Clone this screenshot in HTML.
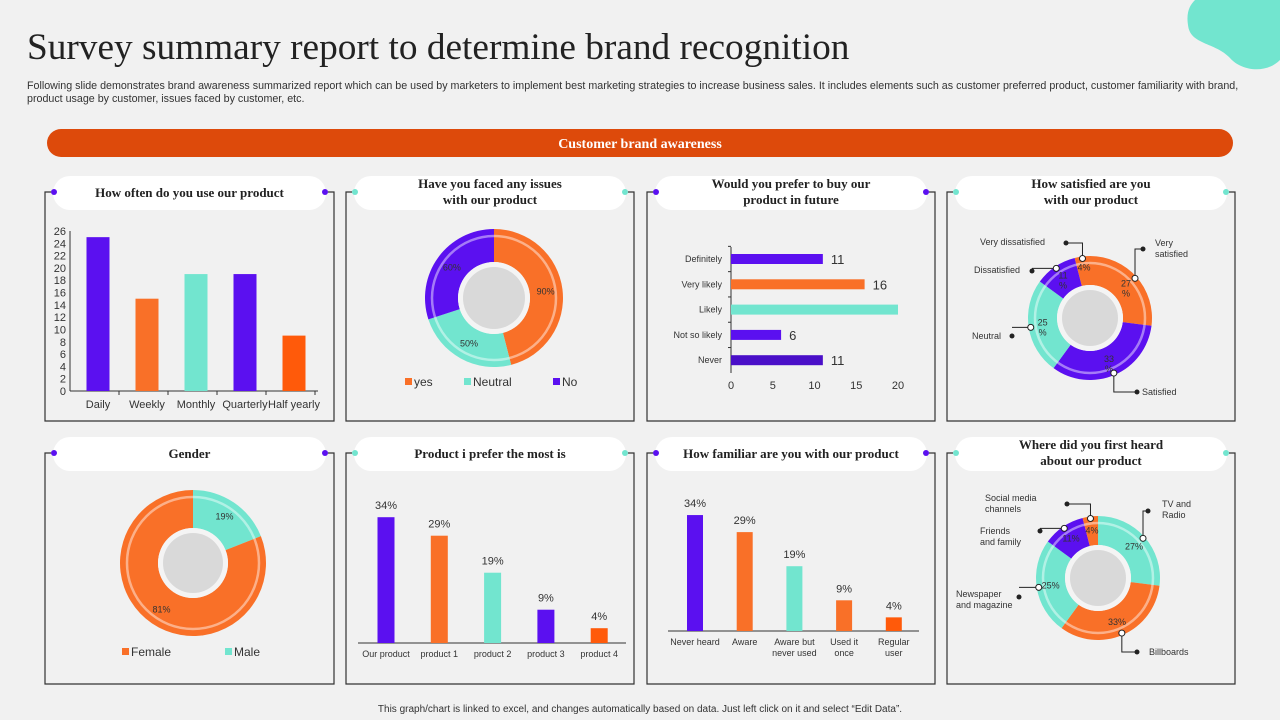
<!DOCTYPE html>
<html><head><meta charset="utf-8"><style>
body{margin:0;width:1280px;height:720px;overflow:hidden;background:#f1f1f1;font-family:"Liberation Sans",sans-serif}
svg{display:block}
.t{font-family:"Liberation Serif",serif;font-weight:bold;fill:#222;font-size:13px}
.s{font-family:"Liberation Sans",sans-serif;fill:#333}
</style></head><body>
<svg id="svg" width="1280" height="720" viewBox="0 0 1280 720">
<rect width="1280" height="720" fill="#f1f1f1"/>
<path d="M1195 0 H1280 V60 C1265 75 1240 70 1230 58 C1215 42 1190 45 1188 25 C1186 12 1190 5 1195 0Z" fill="#72e5cf"/>
<text x="27" y="59" font-family="Liberation Serif,serif" font-size="37.3" fill="#222">Survey summary report to determine brand recognition</text>
<text x="27" y="89" class="s" font-size="10.7" fill="#444">Following slide demonstrates brand awareness summarized report which can be used by marketers to implement best marketing strategies to increase business sales. It includes elements such as customer preferred product, customer familiarity with brand,</text>
<text x="27" y="102" class="s" font-size="10.7" fill="#444">product usage by customer, issues faced by customer, etc.</text>
<rect x="47" y="129" width="1186" height="28" rx="14" fill="#dd4a0b"/>
<text x="640" y="148" text-anchor="middle" font-family="Liberation Serif,serif" font-weight="bold" font-size="14" fill="#fff">Customer brand awareness</text>
<text x="640" y="712" text-anchor="middle" class="s" font-size="10" fill="#444">This graph/chart is linked to excel, and changes automatically based on data. Just left click on it and select “Edit Data”.</text>
<g id="g"></g>
</svg>
<script>
// ---- data ----
const usageCats=["Daily","Weekly","Monthly","Quarterly","Half yearly"];
const usageVals=[25,15,19,19,9];
const usageTicks=[0,2,4,6,8,10,12,14,16,18,20,22,24,26];
const issueCats=["yes","Neutral","No"];
const issueVals=[46,24,30];
const issueLabels=["90%","50%","60%"];
const buyCats=["Definitely","Very likely","Likely","Not so likely","Never"];
const buyVals=[11,16,20,6,11];
const buyTicks=[0,5,10,15,20];
const satCats=["Very dissatisfied","Very satisfied","Satisfied","Neutral","Dissatisfied"];
const satVals=[4,27,33,25,11];
const genderCats=["Male","Female"];
const genderVals=[19,81];
const prodCats=["Our product","product 1","product 2","product 3","product 4"];
const prodVals=[34,29,19,9,4];
const famCats=["Never heard","Aware","Aware but|never used","Used it|once","Regular|user"];
const famVals=[34,29,19,9,4];
const heardCats=["TV and Radio","Billboards","Newspaper and magazine","Friends and family","Social media channels"];
const heardVals=[27,33,25,11,4];

const P="#5b10f0",O="#f97028",T="#72e5cf",O2="#ff5a0a",P2="#4a0fc8";
const NS="http://www.w3.org/2000/svg";
const G=document.getElementById('g');
function el(tag,at,parent){const e=document.createElementNS(NS,tag);for(const k in at)e.setAttribute(k,at[k]);(parent||G).appendChild(e);return e;}
function tx(x,y,s,at){const e=el('text',Object.assign({x:x,y:y},at||{}));e.textContent=s;return e;}

// panels
const panels=[[45,192,289,229,"How often do you use our product",null,P],[346,192,288,229,"Have you faced any issues","with our product",T],
[647,192,288,229,"Would you prefer to buy our","product in future",P],[947,192,288,229,"How satisfied are you","with our product",T],
[45,453,289,231,"Gender",null,P],[346,453,288,231,"Product i prefer the most is",null,T],
[647,453,288,231,"How familiar are you with our product",null,P],[947,453,288,231,"Where did you first heard","about our product",T]];
panels.forEach((p,i)=>{
 const [x,y,w,h,t1,t2,c]=p;
 const f=el('path',{d:`M${x+6} ${y}H${x} V${y+h} H${x+w} V${y} H${x+w-6}`,fill:'none',stroke:'#333','stroke-width':1.2});
 
 
 const pill=el('rect',{x:x+8,y:y-16,width:w-16,height:34,rx:17,fill:'#fff'});
 
 
 [x+9,x+w-9].forEach(cx=>{const d=el('circle',{cx:cx,cy:y,r:3,fill:c});});
 if(t2){const a=tx(x+w/2,y-4,t1,{class:'t','text-anchor':'middle'});
  const b=tx(x+w/2,y+12,t2,{class:'t','text-anchor':'middle'});}
 else{const a=tx(x+w/2,y+5,t1,{class:'t','text-anchor':'middle'});}
});

// Panel 1: vertical bars
(function(){
 const x0=85,y0=391,yTop=231,maxV=26,step=49,bw=23;
 const ys=v=>y0-(v/maxV)*(y0-yTop);
 el('line',{x1:x0-15,y1:y0,x2:x0+233,y2:y0,stroke:'#333'});
 el('line',{x1:x0-15,y1:yTop,x2:x0-15,y2:y0,stroke:'#333'});
 usageTicks.forEach(v=>{const t=tx(x0-19,ys(v)+4,v,{class:'s','font-size':11,'text-anchor':'end'});});
 const cols=[P,O,T,P,O2];
 usageVals.forEach((v,i)=>{const cx=x0+13+i*step;
  const r=el('rect',{x:cx-bw/2,y:ys(v),width:bw,height:y0-ys(v),fill:cols[i]});
  
  
  const l=tx(cx,y0+17,usageCats[i],{class:'s','font-size':11,'text-anchor':'middle'});
  
  
  el('line',{x1:x0-15+(i+1)*step,y1:y0,x2:x0-15+(i+1)*step,y2:y0+4,stroke:'#333'});
 });
})();

function pt(cx,cy,r,a){return [cx+r*Math.sin(a),cy-r*Math.cos(a)];}
function donut(cx,cy,R,r,vals,cols,start,name,cats){
 const tot=vals.reduce((a,b)=>a+b,0);let a=start;const mids=[];
 vals.forEach((v,i)=>{const b=a+v/tot*2*Math.PI;const lg=(b-a)>Math.PI?1:0;
  const p1=pt(cx,cy,R,a),p2=pt(cx,cy,R,b),p3=pt(cx,cy,r,b),p4=pt(cx,cy,r,a);
  const s=el('path',{d:`M${p1}A${R} ${R} 0 ${lg} 1 ${p2}L${p3}A${r} ${r} 0 ${lg} 0 ${p4}Z`,fill:cols[i]});
  
  
  mids.push((a+b)/2);a=b;});
 el('circle',{cx:cx,cy:cy,r:R-7,fill:'none',stroke:'rgba(255,255,255,0.45)','stroke-width':2.5});
 el('circle',{cx:cx,cy:cy,r:r,fill:'#f4f4f4'});
 const c=el('circle',{cx:cx,cy:cy,r:r-5,fill:'#d9d9d9'});
 
 
 return mids;
}

// Panel 2
(function(){
 const cols=[O,T,P];
 const m=donut(494,298,69,36,issueVals,cols,0,'issues',issueCats);
 m.forEach((a,i)=>{const p=pt(494,298,52,a);const t=tx(p[0],p[1]+3,issueLabels[i],{class:'s','font-size':9,'text-anchor':'middle',fill:i==1?'#333':'#fff'});});
 const lx=[405,464,553];
 issueCats.forEach((c,i)=>{el('rect',{x:lx[i],y:378,width:7,height:7,fill:cols[i]});
  const t=tx(lx[i]+9,386,c,{class:'s','font-size':12});});
})();

// Panel 3: horizontal bars
(function(){
 const x0=731,x1=898,maxV=20,y1=259,step=25.3,bh=10;
 const xs=v=>x0+v/maxV*(x1-x0);
 el('line',{x1:x0,y1:247,x2:x0,y2:373,stroke:'#333'});
 buyTicks.forEach(v=>{const t=tx(xs(v),389,v,{class:'s','font-size':11,'text-anchor':'middle'});});
 const cols=[P,O,T,P,P2];
 buyVals.forEach((v,i)=>{const y=y1+i*step;
  const r=el('rect',{x:x0,y:y-bh/2,width:xs(v)-x0,height:bh,fill:cols[i]});
  
  
  const l=tx(x0-9,y+3,buyCats[i],{class:'s','font-size':9,'text-anchor':'end'});
  
  if(v<maxV){const vl=tx(xs(v)+8,y+5,v,{class:'s','font-size':13});}
  el('line',{x1:x0-3,y1:y-step/2,x2:x0,y2:y-step/2,stroke:'#333'});
 });
})();

function callouts(cx,cy,R,mids,cats,spec){
 spec.forEach((s,i)=>{const p=pt(cx,cy,R-2,mids[i]);
  el('path',{d:s.path(p),fill:'none',stroke:'#222','stroke-width':1});
  el('circle',{cx:p[0],cy:p[1],r:3,fill:'#fff',stroke:'#222'});
  el('circle',{cx:s.dot[0],cy:s.dot[1],r:2.5,fill:'#222'});
  s.lines.forEach((ln,j)=>{const t=tx(s.tx,s.ty+j*11,ln,{class:'s','font-size':9,'text-anchor':s.anchor||'start'});});
 });
}

// Panel 4
(function(){
 const cx=1090,cy=318,cols=[O,O,P,T,P];
 const m=donut(cx,cy,62,33,satVals,cols,-satVals[0]/100*Math.PI*2,'satisfaction',satCats);
 m.forEach((a,i)=>{const p=pt(cx,cy,48,a);const lab=satVals[i]+(i==0?'%':'');
  const t=tx(p[0],p[1],lab,{class:'s','font-size':9,'text-anchor':'middle',fill:i==3?'#333':'#fff'});
  if(i>0){const t2=tx(p[0],p[1]+10,'%',{class:'s','font-size':9,'text-anchor':'middle',fill:i==3?'#333':'#fff'});}});
 callouts(cx,cy,62,m,satCats,[
  {path:p=>`M${p[0]} ${p[1]}V243H1066`,dot:[1066,243],lines:["Very dissatisfied"],tx:1045,ty:245,anchor:'end'},
  {path:p=>`M${p[0]} ${p[1]}V249H1143`,dot:[1143,249],lines:["Very","satisfied"],tx:1155,ty:246},
  {path:p=>`M${p[0]} ${p[1]}V392H1137`,dot:[1137,392],lines:["Satisfied"],tx:1142,ty:395},
  {path:p=>`M${p[0]} ${p[1]}H1012`,dot:[1012,336],lines:["Neutral"],tx:1001,ty:339,anchor:'end'},
  {path:p=>`M${p[0]} ${p[1]}H1032`,dot:[1032,271],lines:["Dissatisfied"],tx:1020,ty:273,anchor:'end'}]);
})();

// Panel 5: gender
(function(){
 const cols=[T,O];
 const m=donut(193,563,73,35,genderVals,cols,0,'gender',genderCats);
 m.forEach((a,i)=>{const p=pt(193,563,56,a);const t=tx(p[0],p[1]+3,genderVals[i]+'%',{class:'s','font-size':9,'text-anchor':'middle',fill:i==0?'#333':'#fff'});});
 [["Female",O,122],["Male",T,225]].forEach(l=>{el('rect',{x:l[2],y:648,width:7,height:7,fill:l[1]});
  const t=tx(l[2]+9,656,l[0],{class:'s','font-size':12});});
})();

function vbars(cats,vals,cols,x0,x1,c0,step,bw,y0,ppu,name){
 el('line',{x1:x0,y1:y0,x2:x1,y2:y0,stroke:'#333'});
 vals.forEach((v,i)=>{const cx=c0+i*step,h=v*ppu;
  const r=el('rect',{x:cx-bw/2,y:y0-h,width:bw,height:h,fill:cols[i]});
  
  
  const vl=tx(cx,y0-h-8,v+'%',{class:'s','font-size':11,'text-anchor':'middle'});
  
  cats[i].split('|').forEach((s,j)=>{const l=tx(cx,y0+14+j*11,s,{class:'s','font-size':9,'text-anchor':'middle'});});
 });
}
vbars(prodCats,prodVals,[P,O,T,P,O2],358,626,386,53.3,17,643,3.7,'product');
vbars(famCats,famVals,[P,O,T,O,O2],668,919,695,49.7,16,631,3.41,'familiar');

// Panel 8
(function(){
 const cx=1098,cy=578,cols=[T,O,T,P,O];
 const m=donut(cx,cy,62,33,heardVals,cols,0,'heard',heardCats);
 m.forEach((a,i)=>{const p=pt(cx,cy,48,a);const t=tx(p[0],p[1]+3,heardVals[i]+'%',{class:'s','font-size':9,'text-anchor':'middle',fill:(i==0||i==2)?'#333':'#fff'});});
 callouts(cx,cy,62,m,heardCats,[
  {path:p=>`M${p[0]} ${p[1]}V511H1148`,dot:[1148,511],lines:["TV and","Radio"],tx:1162,ty:507},
  {path:p=>`M${p[0]} ${p[1]}V652H1137`,dot:[1137,652],lines:["Billboards"],tx:1149,ty:655},
  {path:p=>`M${p[0]} ${p[1]}H1019`,dot:[1019,597],lines:["Newspaper","and magazine"],tx:956,ty:597},
  {path:p=>`M${p[0]} ${p[1]}H1040`,dot:[1040,531],lines:["Friends","and family"],tx:980,ty:534},
  {path:p=>`M${p[0]} ${p[1]}V504H1067`,dot:[1067,504],lines:["Social media","channels"],tx:985,ty:501}]);
})();
</script>
</body></html>
